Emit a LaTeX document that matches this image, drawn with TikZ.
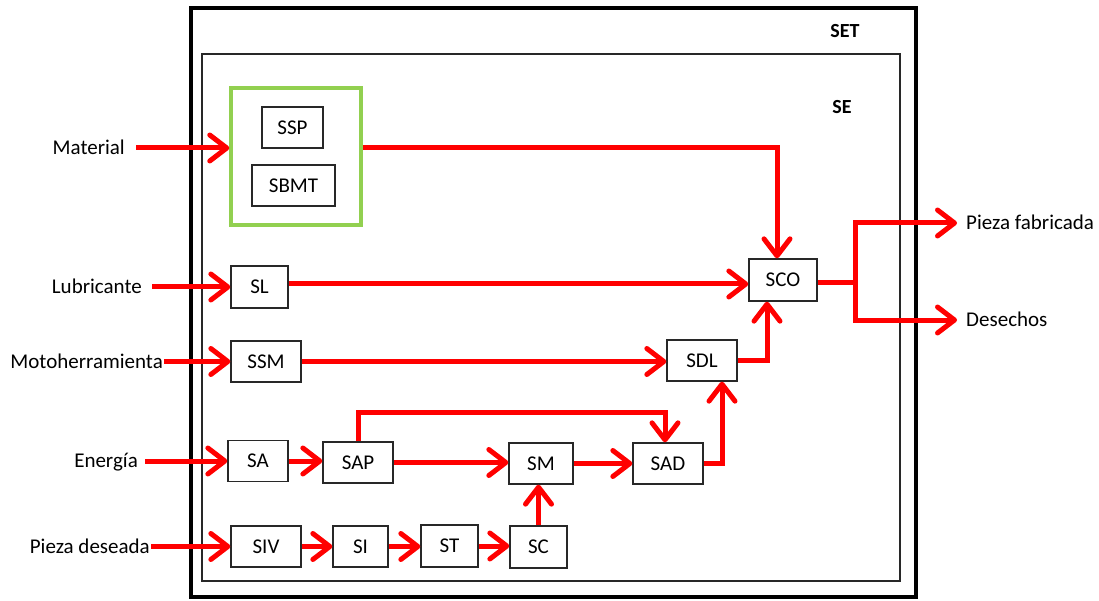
\documentclass[tikz,border=0pt]{standalone}
\usepackage{fontspec}
\setmainfont{Carlito}
\usetikzlibrary{arrows.meta}
\definecolor{offgreen}{RGB}{146,208,80}
\definecolor{boxline}{RGB}{40,40,40}
\begin{document}
\begin{tikzpicture}[x=1pt,y=-1pt,
  txt/.style={font=\fontsize{21}{25}\selectfont, text height=13.5pt, text depth=0pt, inner sep=0pt},
  blk/.style={draw=boxline, line width=1.3pt, txt, minimum height=41pt},
  lbl/.style={txt},
  ttl/.style={font=\bfseries\fontsize{20}{24}\selectfont, text height=13pt, text depth=0pt, inner sep=0pt},
  flow/.style={draw=red, line width=5pt, line join=miter,
    -{Straight Barb[length=17pt,width=26pt,round]}},
  plain/.style={draw=red, line width=5pt, line join=miter}
]
\useasboundingbox (0,0) rectangle (1099,601);

% frames
\node[draw=black, line width=4pt, minimum width=725pt, minimum height=589pt, inner sep=0pt] (set) at (553.5,302.5) {};
\node[draw=boxline, line width=1.2pt, minimum width=698pt, minimum height=527pt, inner sep=0pt] (se) at (551,317.5) {};
\node[ttl] (setl) at (845,31) {SET};
\node[ttl] (sel) at (842,107) {SE};

% green group
\node[draw=offgreen, line width=3.5pt, minimum width=130pt, minimum height=137pt, inner sep=0pt] (grn) at (296,156.5) {};
\node[blk, minimum width=61pt] (ssp) at (292.5,127.5) {SSP};
\node[blk, minimum width=83pt] (sbmt) at (293.5,185.5) {SBMT};

% blocks
\node[blk, minimum width=57pt, minimum height=42pt] (sl) at (259.5,287) {SL};
\node[blk, minimum width=70pt] (ssm) at (266,361.5) {SSM};
\node[blk, minimum width=60pt] (sa) at (258,461) {SA};
\node[blk, minimum width=70pt] (sap) at (358,462.5) {SAP};
\node[blk, minimum width=64pt] (sm) at (541,463.5) {SM};
\node[blk, minimum width=70pt] (sad) at (668,463.5) {SAD};
\node[blk, minimum width=70pt] (siv) at (266,546.5) {SIV};
\node[blk, minimum width=55pt] (si) at (360.5,546.5) {SI};
\node[blk, minimum width=57pt, minimum height=42pt] (st) at (449.5,546) {ST};
\node[blk, minimum width=57pt, minimum height=42pt] (sc) at (538.5,547) {SC};
\node[blk, minimum width=70pt] (sdl) at (702,360.5) {SDL};
\node[blk, minimum width=68pt, minimum height=42pt] (sco) at (783,280) {SCO};

% external labels
\node[lbl, anchor=east, inner xsep=11pt] (mat) at (136,148) {Material};
\node[lbl, anchor=east, inner xsep=10pt] (lub) at (152,287) {Lubricante};
\node[lbl, anchor=east, inner xsep=1pt] (mot) at (164,361.5) {Motoherramienta};
\node[lbl, anchor=east, inner xsep=7pt] (ene) at (145,461) {Energía};
\node[lbl, anchor=east, inner xsep=1pt] (pde) at (151,546.5) {Pieza deseada};
\node[lbl, anchor=west, inner xsep=9pt] (pfa) at (957,223) {Pieza fabricada};
\node[lbl, anchor=west, inner xsep=9pt] (des) at (957,320) {Desechos};
\coordinate (jn) at (855,283);

% inputs
\draw[flow] (mat.east) -- (mat.east -| grn.west);
\draw[flow] (lub.east) -- (lub.east -| sl.west);
\draw[flow] (mot.east) -- (mot.east -| ssm.west);
\draw[flow] (ene.east) -- (ene.east -| sa.west);
\draw[flow] (pde.east) -- (pde.east -| siv.west);

% internal
\draw[flow] (grn.east |- mat.east) -| ([xshift=-6pt]sco.north);
\draw[flow] ([yshift=3pt]sl.east) -- ([yshift=3pt]sl.east -| sco.west);
\draw[flow] (ssm.east) -- (ssm.east -| sdl.west);
\draw[flow] (sdl.east) -| ([xshift=-16pt]sco.south);
\draw[flow] (sa.east) -- (sa.east -| sap.west);
\draw[flow] (sap.east) -- (sap.east -| sm.west);
\draw[flow] (sap.north) -- ++(0,-29) -| ([xshift=-3pt]sad.north);
\draw[flow] (sm.east) -- (sm.east -| sad.west);
\draw[flow] (sad.east) -| ([xshift=20pt]sdl.south);
\draw[flow] (sc.north) -- (sc.north |- sm.south);
\draw[flow] (siv.east) -- (siv.east -| si.west);
\draw[flow] (si.east) -- (si.east -| st.west);
\draw[flow] (st.east) -- (st.east -| sc.west);

% outputs
\draw[plain] ([yshift=-3pt]sco.east) -- (jn);
\draw[flow] (jn) |- (pfa.west);
\draw[flow] (jn) |- (des.west);
\end{tikzpicture}
\end{document}
